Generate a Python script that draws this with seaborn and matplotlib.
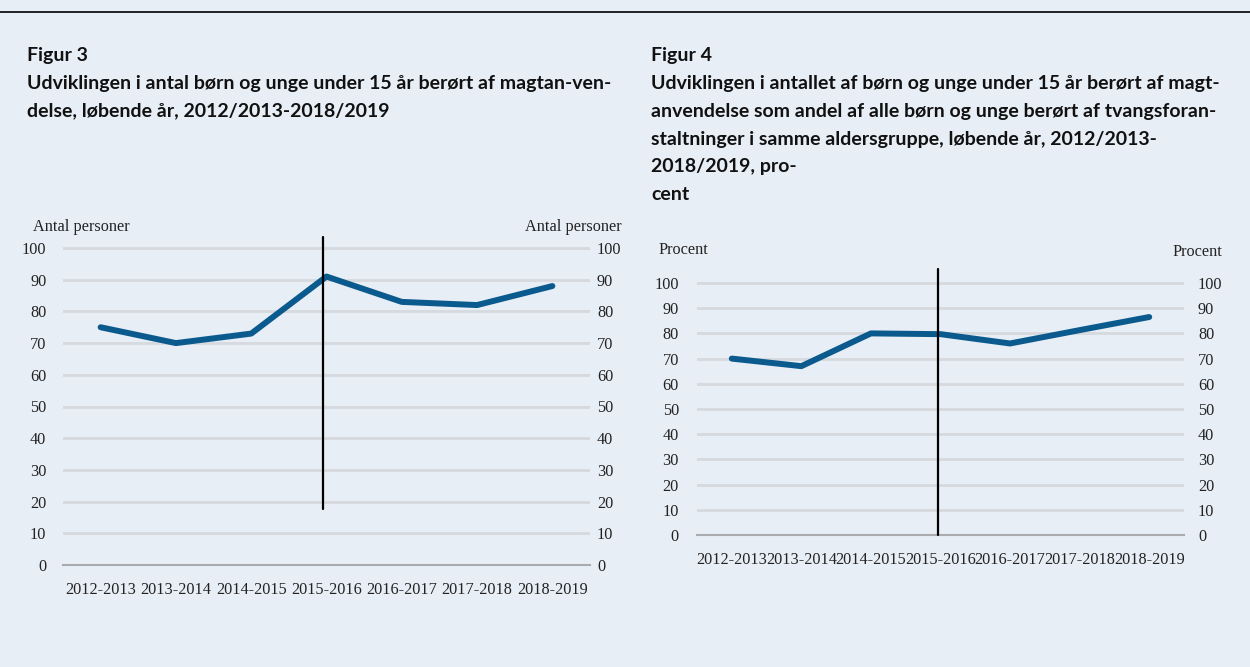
import matplotlib
matplotlib.use("Agg")
import matplotlib.pyplot as plt
from matplotlib.lines import Line2D
import seaborn as sns
import pandas as pd

# ---------------- data ----------------
categories = ["2012-2013", "2013-2014", "2014-2015", "2015-2016",
              "2016-2017", "2017-2018", "2018-2019"]
fig3_values = [75, 70, 73, 91, 83, 82, 88]
fig4_values = [70, 67, 80, 79.7, 76, 81.3, 86.5]
y_ticks = [0, 10, 20, 30, 40, 50, 60, 70, 80, 90, 100]

fig3_title = ["Figur 3",
              "Udviklingen i antal børn og unge under 15 år berørt af magtan-ven-",
              "delse, løbende år, 2012/2013-2018/2019"]
fig4_title = ["Figur 4",
              "Udviklingen i antallet af børn og unge under 15 år berørt af magt-",
              "anvendelse som andel af alle børn og unge berørt af tvangsforan-",
              "staltninger i samme aldersgruppe, løbende år, 2012/2013-",
              "2018/2019, pro-",
              "cent"]
fig3_unit = "Antal personer"
fig4_unit = "Procent"

# ---------------- style ----------------
sns.set_theme(style="white")
plt.rcParams["font.family"] = ["Liberation Serif", "DejaVu Serif"]

BG = "#E8EEF6"
LINE = "#0B5A8E"
GRID = "#D6D9DE"
W, H = 1250, 667
FS = 11.7

fig = plt.figure(figsize=(W / 100, H / 100), dpi=100, facecolor=BG)


def add_axes_px(x0, x1, y_top, y_bottom):
    return fig.add_axes([x0 / W, 1 - y_bottom / H, (x1 - x0) / W, (y_bottom - y_top) / H])


def draw_chart(ax, values, ymax, vline_x, vline_y0, vline_y1, ypad_l, ypad_r, xpad):
    df = pd.DataFrame({"pos": range(len(categories)), "value": values})
    ax.set_facecolor("none")
    sns.lineplot(data=df, x="pos", y="value", ax=ax, color=LINE,
                 linewidth=4.3, sort=False, solid_capstyle="round", zorder=3)
    ax.set_xlim(-0.5, len(categories) - 0.5)
    ax.set_ylim(0, ymax)
    ax.set_yticks(y_ticks)
    ax.set_xticks(range(len(categories)))
    ax.set_xticklabels(categories)
    ax.set_xlabel("")
    ax.set_ylabel("")
    ax.yaxis.grid(True, color=GRID, linewidth=2)
    ax.xaxis.grid(False)
    ax.set_axisbelow(True)
    for s in ["top", "left", "right"]:
        ax.spines[s].set_visible(False)
    ax.spines["bottom"].set_color("#A9ABAE")
    ax.spines["bottom"].set_linewidth(1.5)
    ax.tick_params(axis="y", length=0, pad=ypad_l, labelsize=FS, labelcolor="#222222")
    ax.tick_params(axis="x", length=0, pad=xpad, labelsize=FS, labelcolor="#222222")
    ax.plot([vline_x, vline_x], [vline_y0, vline_y1], color="black", linewidth=1.6,
            zorder=4, clip_on=False)
    ax2 = ax.twinx()
    ax2.set_ylim(0, ymax)
    ax2.set_yticks(y_ticks)
    ax2.grid(False)
    for s in ax2.spines.values():
        s.set_visible(False)
    ax2.tick_params(axis="y", length=0, pad=ypad_r, labelsize=FS, labelcolor="#222222")
    ax2.set_facecolor("none")


# left chart (Figur 3)
ax1 = add_axes_px(63, 590, 565 - 104 * 3.17, 565)
draw_chart(ax1, fig3_values, 104, 2.95, 17.7, 103.6, 12, 5, 12)

# right chart (Figur 4)
ax3 = add_axes_px(697, 1184, 535 - 106 * 2.52, 535)
draw_chart(ax3, fig4_values, 106, 2.96, 0, 105.7, 13, 10, 12)

# unit labels
unit_kw = dict(fontsize=FS, color="#222222", va="center")
fig.text(33 / W, 1 - 227 / H, fig3_unit, ha="left", **unit_kw)
fig.text(622 / W, 1 - 227 / H, fig3_unit, ha="right", **unit_kw)
fig.text(658 / W, 1 - 250 / H, fig4_unit, ha="left", **unit_kw)
fig.text(1222 / W, 1 - 252 / H, fig4_unit, ha="right", **unit_kw)

# titles
title_kw = dict(fontsize=14, fontweight="bold", color="#111111", va="center",
                ha="left", family=["Lato", "DejaVu Sans"])
for i, line in enumerate(fig3_title):
    fig.text(27 / W, 1 - (55 + i * 28) / H, line, **title_kw)
for i, line in enumerate(fig4_title):
    fig.text(651 / W, 1 - (55 + i * 28) / H, line, **title_kw)

# top rule
fig.add_artist(Line2D([0, 1], [1 - 12 / H, 1 - 12 / H], color="black", linewidth=1.2,
                      transform=fig.transFigure))

fig.savefig("out.png", dpi=100, facecolor=BG)
